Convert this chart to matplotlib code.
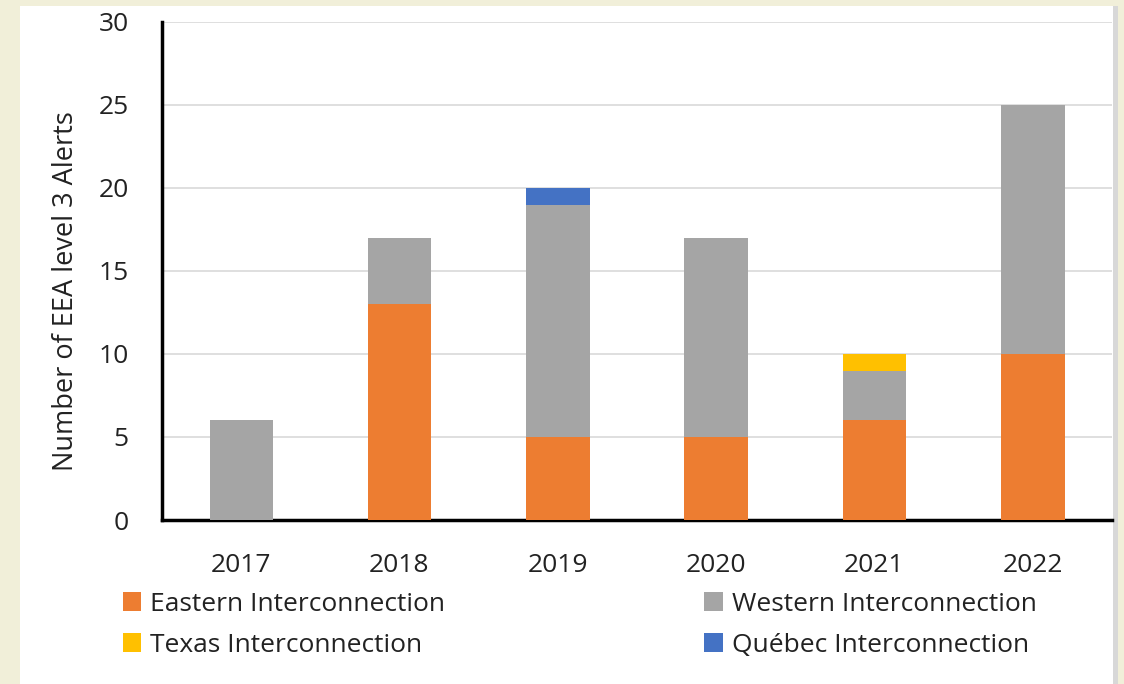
import matplotlib.pyplot as plt
from matplotlib.patches import Rectangle
import numpy as np

plt.rcParams['font.family'] = ['Open Sans', 'DejaVu Sans']

years = ['2017', '2018', '2019', '2020', '2021', '2022']
eastern = [0, 13, 5, 5, 6, 10]
western = [6, 4, 14, 12, 3, 15]
texas = [0, 0, 0, 0, 1, 0]
quebec = [0, 0, 1, 0, 0, 0]

colors = {'Eastern': '#ED7D31', 'Western': '#A5A5A5',
          'Texas': '#FFC000', 'Quebec': '#4472C4'}

W, H = 1124, 684
fig = plt.figure(figsize=(W / 100, H / 100), dpi=100)
fig.patch.set_facecolor('#F1EFD9')
# white panel with a faint shadow on the right
fig.patches.append(Rectangle((20 / W, 0), 1098 / W, 678 / H, transform=fig.transFigure,
                             facecolor='#D8D8D8', edgecolor='none', zorder=-2))
fig.patches.append(Rectangle((20 / W, 0), 1093 / W, 678 / H, transform=fig.transFigure,
                             facecolor='white', edgecolor='none', zorder=-1))

ax = fig.add_axes([162 / W, 1 - 520 / H, (1112 - 162) / W, (520 - 22) / H])
ax.set_zorder(2)
ax.set_facecolor('none')

x = np.arange(len(years))
bw = 0.4
e = np.array(eastern)
w = np.array(western)
t = np.array(texas)
q = np.array(quebec)
ax.bar(x, e, bw, color=colors['Eastern'], label='Eastern Interconnection', zorder=3)
ax.bar(x, w, bw, bottom=e, color=colors['Western'], label='Western Interconnection', zorder=3)
ax.bar(x, t, bw, bottom=e + w, color=colors['Texas'], label='Texas Interconnection', zorder=3)
ax.bar(x, q, bw, bottom=e + w + t, color=colors['Quebec'], label='Québec Interconnection', zorder=3)

ax.set_xlim(-0.5, len(years) - 0.5)
ax.set_ylim(0, 30)
ax.set_yticks(range(0, 31, 5))
ax.set_xticks(x)
ax.set_xticklabels(years)
ax.tick_params(length=0, labelsize=19, colors='#222222')
ax.tick_params(axis='y', pad=24)
ax.tick_params(axis='x', pad=24)
ax.yaxis.grid(True, color='#D9D9D9', linewidth=1.2, zorder=0)
ax.set_axisbelow(True)
for s in ['top', 'right']:
    ax.spines[s].set_visible(False)
ax.spines['left'].set_linewidth(2.5)
ax.spines['bottom'].set_linewidth(2.5)
ax.set_ylabel('Number of EEA level 3 Alerts', fontsize=19.5, color='#222222',
              va='center', ha='center')
ax.yaxis.set_label_coords(-0.101, 0.46)

handles, labels = ax.get_legend_handles_labels()
order = [0, 2, 1, 3]
leg = fig.legend([handles[i] for i in order], [labels[i] for i in order],
                 loc='upper left', bbox_to_anchor=(99 / W, 1 - 568 / H), ncol=2,
                 frameon=False, fontsize=19, handlelength=0.7, handleheight=0.7,
                 handletextpad=0.35, columnspacing=9.8, labelspacing=0.6, labelcolor='#222222')
leg.set_zorder(3)

fig.savefig('out.png', dpi=100, facecolor=fig.get_facecolor())
